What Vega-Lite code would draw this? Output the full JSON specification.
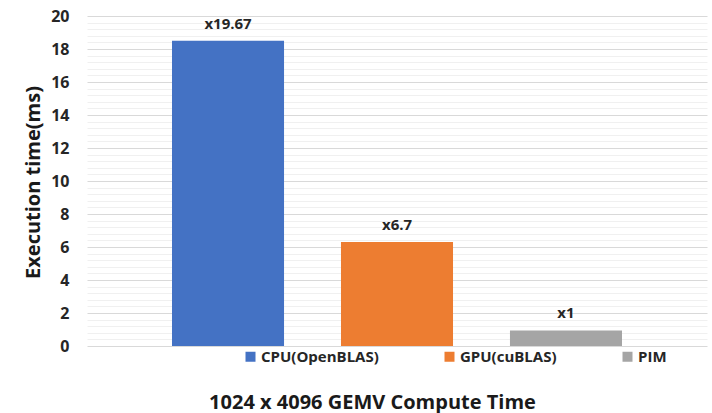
{
  "$schema": "https://vega.github.io/schema/vega-lite/v6.json",
  "width": 620,
  "height": 330,
  "autosize": {"type": "none"},
  "padding": {"left": 87, "top": 16, "right": 5, "bottom": 67},
  "config": {"view": {"stroke": null}, "font": "Open Sans"},
  "data": {
    "values": [
      {"device": "CPU(OpenBLAS)", "time": 18.5, "label": "x19.67"},
      {"device": "GPU(cuBLAS)", "time": 6.3, "label": "x6.7"},
      {"device": "PIM", "time": 0.94, "label": "x1"}
    ]
  },
  "encoding": {
    "x": {
      "field": "device",
      "type": "nominal",
      "sort": null,
      "scale": {"paddingInner": 0.337, "paddingOuter": 0.503},
      "axis": {
        "labels": false,
        "ticks": false,
        "domain": false,
        "title": "1024 x 4096 GEMV Compute Time",
        "titleFont": "Open Sans",
        "titleFontSize": 20,
        "titleFontWeight": "bold",
        "titleColor": "#1a1a1a",
        "titleX": 285,
        "titleY": 56,
        "titleBaseline": "middle",
        "titleAlign": "center"
      }
    },
    "y": {
      "field": "time",
      "type": "quantitative",
      "scale": {"domain": [0, 20], "nice": false},
      "axis": {
        "values": [0, 0.4, 0.8, 1.2, 1.6, 2, 2.4, 2.8, 3.2, 3.6, 4, 4.4, 4.8, 5.2, 5.6, 6, 6.4, 6.8, 7.2, 7.6, 8, 8.4, 8.8, 9.2, 9.6, 10, 10.4, 10.8, 11.2, 11.6, 12, 12.4, 12.8, 13.2, 13.6, 14, 14.4, 14.8, 15.2, 15.6, 16, 16.4, 16.8, 17.2, 17.6, 18, 18.4, 18.8, 19.2, 19.6, 20],
        "labelExpr": "abs(datum.value - round(datum.value/2)*2) < 0.001 ? '' + round(datum.value) : ''",
        "labelOverlap": false,
        "labelFontSize": 16,
        "labelFontWeight": "bold",
        "labelColor": "#262626",
        "labelPadding": 18,
        "ticks": false,
        "domain": false,
        "gridColor": {
          "condition": {"test": "abs(datum.value - round(datum.value/2)*2) < 0.001", "value": "#d9d9d9"},
          "value": "#f0f0f0"
        },
        "gridWidth": 1,
        "title": "Execution time(ms)",
        "titleFontSize": 20,
        "titleFontWeight": "bold",
        "titleColor": "#1a1a1a",
        "titleX": -54,
        "titleY": 166,
        "titleAngle": -90,
        "titleAlign": "center",
        "titleBaseline": "middle"
      }
    }
  },
  "layer": [
    {
      "mark": {"type": "bar"},
      "encoding": {
        "color": {
          "field": "device",
          "type": "nominal",
          "sort": null,
          "scale": {"range": ["#4472C4", "#ED7D31", "#A5A5A5"]},
          "legend": {
            "orient": "none",
            "legendX": 156,
            "legendY": 333,
            "direction": "horizontal",
            "columns": 3,
            "title": null,
            "symbolType": "square",
            "symbolSize": 100,
            "symbolStrokeWidth": 0,
            "labelFontSize": 15,
            "labelFontWeight": "bold",
            "labelColor": "#262626",
            "labelOffset": 3,
            "columnPadding": 63
          }
        }
      }
    },
    {
      "mark": {"type": "text", "dy": -9, "fontWeight": "bold", "fontSize": 15, "color": "#262626", "baseline": "bottom"},
      "encoding": {"text": {"field": "label"}}
    }
  ]
}
